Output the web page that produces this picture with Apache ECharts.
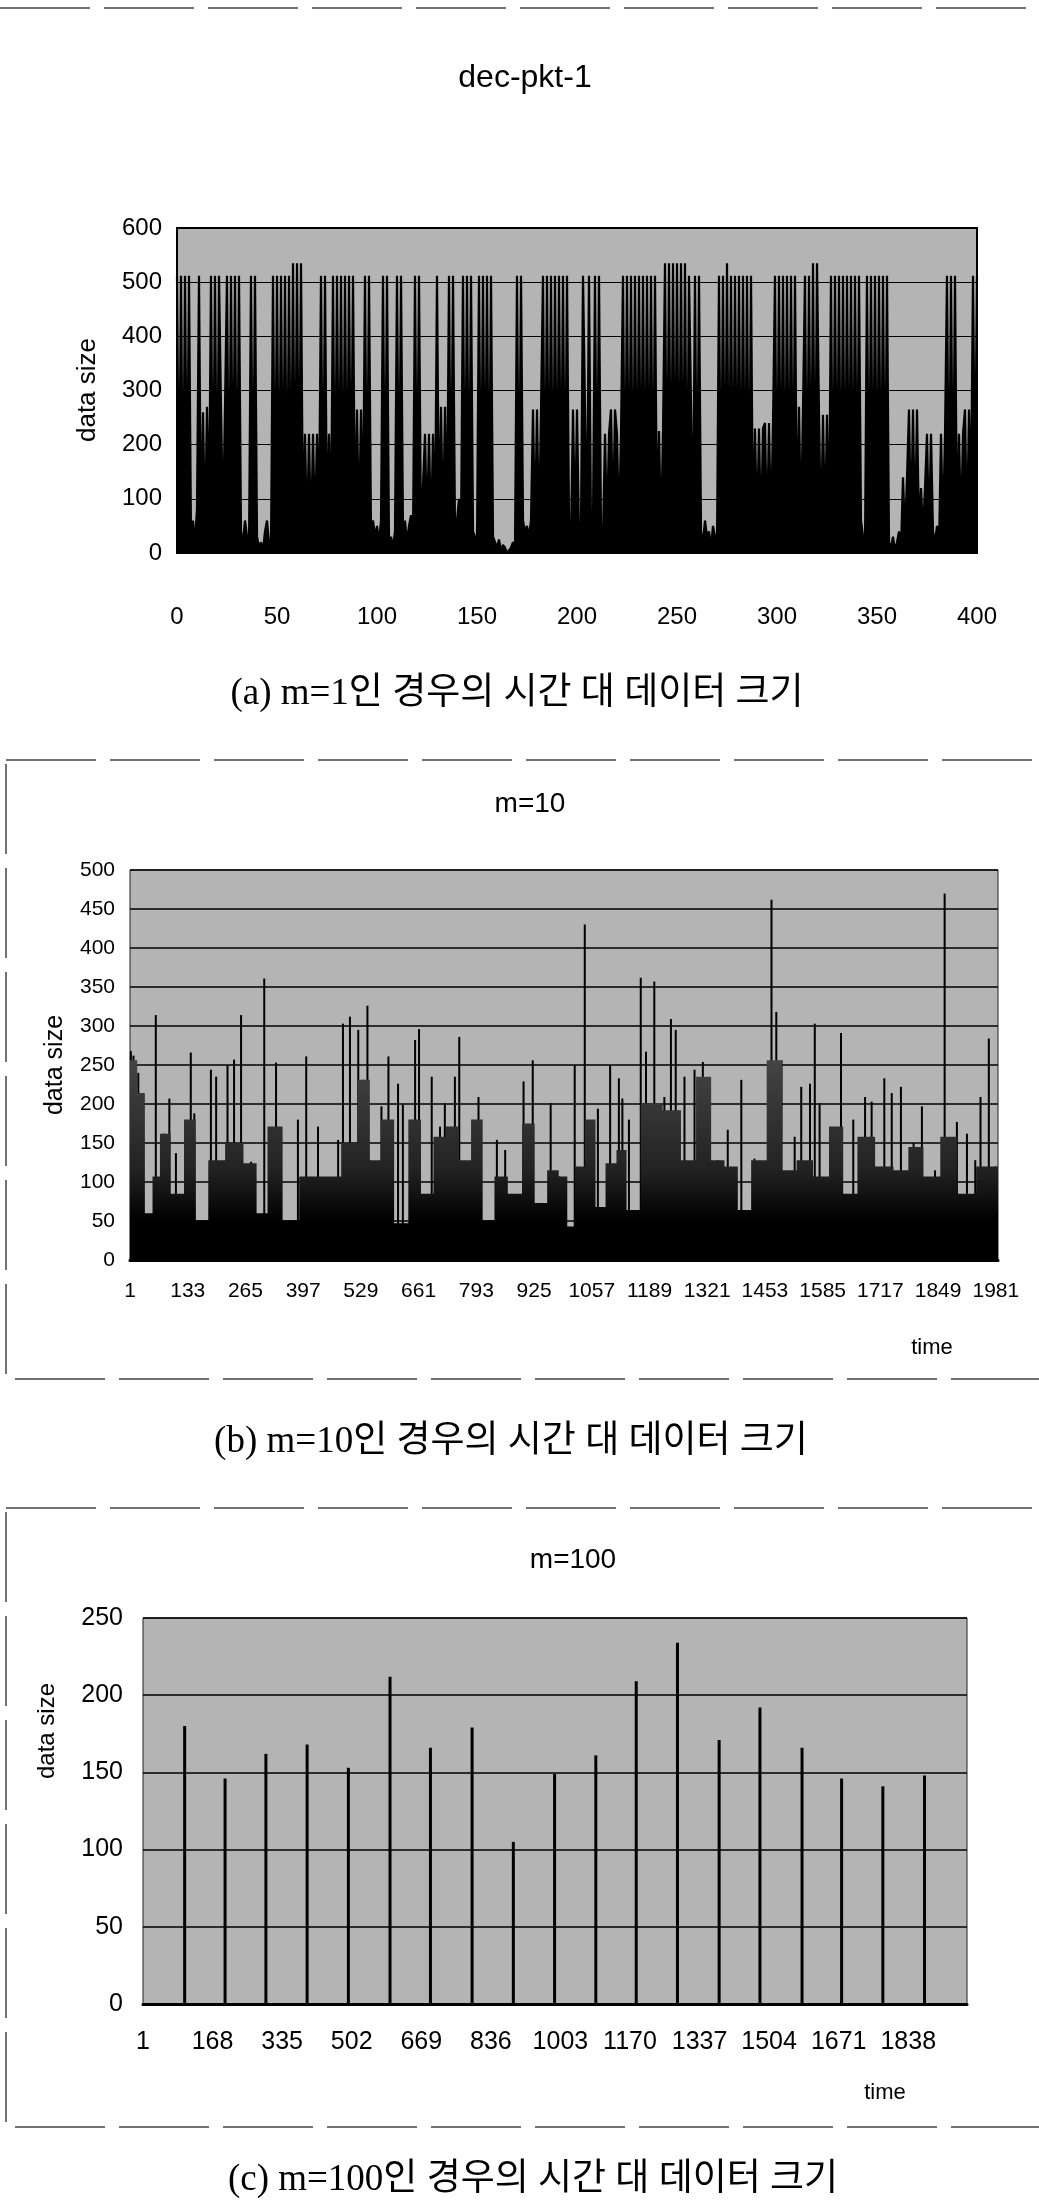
<!DOCTYPE html>
<html>
<head>
<meta charset="utf-8">
<script src="https://cdn.jsdelivr.net/npm/echarts@6/dist/echarts.min.js"></script>
<style>
html,body{margin:0;padding:0;background:#fff;}
#chart{width:1039px;height:2201px;}
</style>
</head>
<body>
<div id="chart"></div>
<script>
// ---------- (a) m=1 : data size per time step 0..400 ----------
const m1Sizes = [
512,40,512,20,512,60,512,30,      // t0-7
60,20,80,                         // t8-10
512,30,                           // t11-12
260,40,270,60,                    // t13-16
512,40,512,20,512,                // t17-21
270,50,270,                       // t22-24
512,30,512,60,512,20,512,         // t25-31
40,20,60,30,10,                   // t32-36
512,40,512,30,                    // t37-40
10,20,5,40,60,20,10,              // t41-47
512,30,512,                       // t48-50
20,                               // t51
512,40,512,20,512,30,             // t52-57
535,40,535,60,535,                // t58-62
40,220,30,                        // t63-65
220,20,220,40,220,60,512,         // t66-72
30,512,40,220,40,                 // t73-77
512,30,512,40,512,20,512,30,      // t78-85
512,60,512,40,                    // t86-89
265,40,265,60,                    // t90-93
512,30,512,40,                    // t94-97
60,30,50,20,60,                   // t98-102
512,30,512,20,                    // t103-106
30,10,40,                         // t107-109
512,30,512,40,                    // t110-113
60,20,50,70,30,                   // t114-118
512,40,512,30,                    // t119-122
30,220,40,220,30,220,40,          // t123-129
512,30,                           // t130-131
270,40,270,60,                    // t132-135
512,30,512,40,                    // t136-139
60,100,40,                        // t140-142
512,30,512,20,                    // t143-146
512,40,30,                        // t147-149
20,                               // t150
512,30,512,40,512,20,512,30,      // t151-158
20,10,25,5,15,10,0,5,10,20,10,    // t159-169
512,20,512,                       // t170-172
60,40,50,30,60,                   // t173-177
265,40,265,30,265,                // t178-182
512,30,512,40,512,20,512,30,512,50,512,30,512, // t183-195
60,30,265,40,265,30,50,512,       // t196-203
512,30,512,40,60,512,30,512,40,   // t204-212
30,220,40,220,265,50,265,220,40,220, // t213-222
512,30,512,40,512,20,512,30,512,40,512,30,512, // t223-235
40,512,30,512,40,                 // t236-240
225,30,225,                       // t241-243
535,40,535,30,535,50,535,30,535,40,535,30,512, // t244-256
512,40,512,30,512,40,             // t257-262
20,60,30,40,10,50,30,20,          // t263-270
512,30,512,40,535,30,512,40,512,  // t271-279
40,                               // t280
512,30,512,40,512,20,512,30,      // t281-288
230,40,230,30,230,                // t289-293
240,30,240,40,240,                // t294-298
512,30,512,40,512,20,512,30,512,40,512,30, // t299-310
270,40,270,                       // t311-313
512,30,512,40,                    // t314-317
535,40,535,                       // t318-320
255,30,255,40,255,30,             // t321-326
512,30,512,40,512,20,512,30,512,40,512,30,512,40,512, // t327-341
60,30,20,                         // t342-344
512,30,512,40,512,20,512,30,512,40,512, // t345-355
20,10,30,5,20,40,10,              // t356-362
140,30,140,                       // t363-365
265,40,265,30,265,40,             // t366-371
120,40,120,                       // t372-374
220,30,220,                       // t375-377
40,20,50,10,                      // t378-381
220,40,220,                       // t382-384
512,30,512,40,512,30,             // t385-390
220,40,220,                       // t391-393
265,30,265,                       // t394-396
100,512,100,512                   // t397-400
];

// ---------- (b) m=10 ----------
const m10Count = 1986;
const m10PeakTimes = [3,6,9,20,24,60,79,91,106,140,148,186,198,224,239,255,278,308,335,346,385,404,431,477,488,504,523,534,544,576,592,614,625,653,662,691,710,721,744,754,798,840,859,901,922,963,982,1018,1041,1071,1099,1119,1127,1142,1169,1181,1200,1223,1238,1249,1269,1292,1311,1326,1345,1368,1399,1429,1468,1479,1491,1521,1536,1556,1567,1578,1621,1627,1655,1682,1697,1726,1743,1764,1793,1812,1842,1864,1873,1892,1915,1934,1946,1965,1980];
const m10PeakSizes = [268,240,262,240,210,314,162,207,137,266,188,244,235,250,257,314,126,361,253,162,180,261,171,154,303,312,295,231,326,197,261,226,199,282,296,235,171,201,235,286,209,154,141,229,256,201,107,250,430,194,250,233,207,180,362,267,357,209,309,295,235,244,254,229,128,167,231,130,462,318,256,158,222,226,303,201,169,291,180,209,203,233,214,222,150,197,115,470,156,177,162,128,209,284,120];
const m10MassTimes = [1,10,25,45,60,79,109,140,163,197,240,281,300,331,369,407,461,507,538,561,588,622,653,680,710,737,768,794,821,848,882,913,940,970,993,1009,1028,1054,1077,1100,1127,1146,1192,1246,1276,1315,1345,1376,1406,1437,1477,1507,1544,1582,1617,1647,1682,1728,1766,1796,1835,1873,1911,1961,1986];
const m10MassSizes = [256,256,214,60,107,162,85,180,51,128,150,124,60,171,51,107,107,150,231,128,180,47,180,85,158,171,128,180,51,107,85,175,73,115,107,43,120,180,68,124,141,64,201,192,128,235,128,120,64,128,256,115,128,107,171,85,158,120,115,145,107,158,85,120,120];

// ---------- (c) m=100 ----------
const m100Count = 1979;
const m100Times = [101,198,296,395,494,594,691,791,890,989,1088,1185,1284,1384,1482,1583,1678,1777,1877];
const m100Sizes = [180,146,162,168,153,212,166,179,105,149,161,209,234,171,192,166,146,141,148];

// axis ticks / labels
const m1XTicks = {min:0, max:400, interval:50};
const m1YTicks = {min:0, max:600, interval:100};
const m10YTicks = {min:0, max:500, interval:50};
const m100YTicks = {min:0, max:250, interval:50};
const m10TimeLabels = Array.from({length:m10Count}, (_, i) => String(i + 1));
const m100TimeLabels = Array.from({length:m100Count}, (_, i) => String(i + 1));

const sans = "'Liberation Sans', Arial, sans-serif";
const capFont = "'Liberation Serif', 'Noto Sans CJK KR', serif";
const plotBg = '#b4b4b4';

const chart = echarts.init(document.getElementById('chart'), null, {renderer:'canvas'});

function txt(text, x, y, size, font, rot) {
  return {type:'text', x:x, y:y, rotation: rot || 0, silent:true,
    style:{text:text, fill:'#000', font: size + 'px ' + font, align:'center', verticalAlign:'middle'}};
}

const option = {
  animation:false,
  backgroundColor:'#fff',
  grid:[
    {left:177, top:228, width:800, height:325, show:true, backgroundColor:plotBg, borderColor:'#000', borderWidth:2, outerBoundsMode:'none'},
    {left:130, top:870, width:868, height:390, show:true, backgroundColor:plotBg, borderColor:'#222', borderWidth:1, outerBoundsMode:'none'},
    {left:143, top:1618, width:824, height:386, show:true, backgroundColor:plotBg, borderColor:'#222', borderWidth:1, outerBoundsMode:'none'}
  ],
  xAxis:[
    {gridIndex:0, type:'value', min:m1XTicks.min, max:m1XTicks.max, interval:m1XTicks.interval,
     axisLine:{show:true, lineStyle:{color:'#000', width:2}}, axisTick:{show:false}, splitLine:{show:false},
     axisLabel:{color:'#000', fontSize:24, fontFamily:sans, margin:52}},
    {gridIndex:1, type:'category', data:m10TimeLabels, boundaryGap:false,
     axisLine:{show:true, lineStyle:{color:'#000', width:3}}, axisTick:{show:false}, splitLine:{show:false},
     axisLabel:{color:'#000', fontSize:21, fontFamily:sans, margin:21, interval:131}},
    {gridIndex:2, type:'category', data:m100TimeLabels, boundaryGap:false,
     axisLine:{show:true, lineStyle:{color:'#000', width:3}}, axisTick:{show:false}, splitLine:{show:false},
     axisLabel:{color:'#000', fontSize:25, fontFamily:sans, margin:26, interval:166}}
  ],
  yAxis:[
    {gridIndex:0, type:'value', min:m1YTicks.min, max:m1YTicks.max, interval:m1YTicks.interval,
     axisLine:{show:false}, axisTick:{show:false},
     splitLine:{show:true, lineStyle:{color:'#000', width:1}},
     axisLabel:{color:'#000', fontSize:24, fontFamily:sans, margin:15}},
    {gridIndex:1, type:'value', min:m10YTicks.min, max:m10YTicks.max, interval:m10YTicks.interval,
     axisLine:{show:false}, axisTick:{show:false},
     splitLine:{show:true, lineStyle:{color:'#000', width:1.5}},
     axisLabel:{color:'#000', fontSize:21, fontFamily:sans, margin:15}},
    {gridIndex:2, type:'value', min:m100YTicks.min, max:m100YTicks.max, interval:m100YTicks.interval,
     axisLine:{show:false}, axisTick:{show:false},
     splitLine:{show:true, lineStyle:{color:'#000', width:1.5}},
     axisLabel:{color:'#000', fontSize:25, fontFamily:sans, margin:20}}
  ],
  series:[
    {type:'line', xAxisIndex:0, yAxisIndex:0, symbol:'none', silent:true,
     data: m1Sizes.map((v, i) => [i, v]),
     lineStyle:{color:'#000', width:2.2}, areaStyle:{color:'#000', opacity:1}},
    {type:'line', xAxisIndex:1, yAxisIndex:1, symbol:'none', silent:true, step:'middle',
     data: m10MassTimes.map((t, i) => [t - 1, m10MassSizes[i]]),
     lineStyle:{width:0},
     areaStyle:{opacity:1, color:new echarts.graphic.LinearGradient(0,0,0,1,[{offset:0,color:'#444'},{offset:0.55,color:'#222'},{offset:0.8,color:'#000'},{offset:1,color:'#000'}])}},
    {type:'bar', xAxisIndex:1, yAxisIndex:1, silent:true, barWidth:2,
     data: m10PeakTimes.map((t, i) => [t - 1, m10PeakSizes[i]]),
     itemStyle:{color:'#000'}},
    {type:'bar', xAxisIndex:2, yAxisIndex:2, silent:true, barWidth:3,
     data: m100Times.map((t, i) => [t - 1, m100Sizes[i]]),
     itemStyle:{color:'#000'}}
  ],
  graphic:[
    {type:'line', silent:true, shape:{x1:0, y1:8, x2:1039, y2:8}, style:{stroke:'#444', lineWidth:1.5, lineDash:[90,14]}},
    {type:'rect', silent:true, shape:{x:6, y:760, width:1040, height:619}, style:{fill:'none', stroke:'#444', lineWidth:1.5, lineDash:[90,14]}},
    {type:'rect', silent:true, shape:{x:6, y:1508, width:1040, height:619}, style:{fill:'none', stroke:'#444', lineWidth:1.5, lineDash:[90,14]}},
    txt('dec-pkt-1', 525, 78, 32, sans),
    txt('data size', 88, 390, 26, sans, Math.PI/2),
    txt('(a) m=1인 경우의 시간 대 데이터 크기', 517, 694, 37, capFont),
    txt('m=10', 530, 804, 28, sans),
    txt('data size', 55, 1065, 25, sans, Math.PI/2),
    txt('time', 932, 1348, 22, sans),
    txt('(b) m=10인 경우의 시간 대 데이터 크기', 511, 1442, 37, capFont),
    txt('m=100', 573, 1560, 28, sans),
    txt('data size', 47, 1731, 24, sans, Math.PI/2),
    txt('time', 885, 2093, 22, sans),
    txt('(c) m=100인 경우의 시간 대 데이터 크기', 533, 2180, 37, capFont)
  ]
};
chart.setOption(option);
</script>
</body>
</html>
